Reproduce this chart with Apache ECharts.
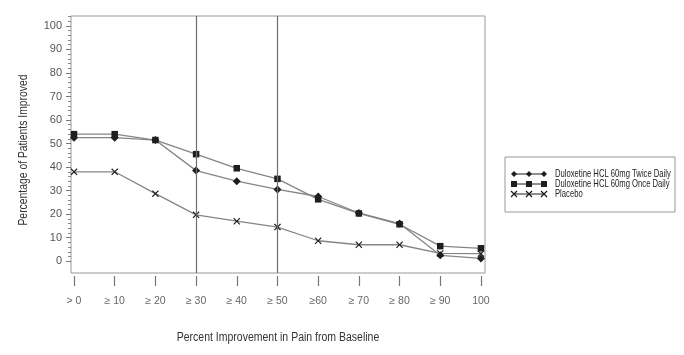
<!DOCTYPE html>
<html><head><meta charset="utf-8">
<script src="https://cdn.jsdelivr.net/npm/echarts@6/dist/echarts.min.js"></script>
<style>html,body{margin:0;padding:0;background:#fff}#c{width:684px;height:355px}</style>
</head><body><div id="c"></div>
<script>
var categories = ['> 0', '\u2265 10', '\u2265 20', '\u2265 30', '\u2265 40', '\u2265 50', '\u226560', '\u2265 70', '\u2265 80', '\u2265 90', '100'];
var twiceDaily = [52.5, 52.5, 51.5, 38.5, 34, 30.5, 27.5, 20.5, 16, 2.5, 1.2];
var onceDaily = [54, 54, 51.5, 45.5, 39.5, 35, 26.3, 20.3, 15.7, 6.4, 5.5];
var placebo = [38, 38, 28.7, 19.7, 17, 14.5, 8.7, 7, 7, 3.3, 3.2];
var seriesNames = ['Duloxetine HCL 60mg Twice Daily', 'Duloxetine HCL 60mg Once Daily', 'Placebo'];
var refLines = [3, 5];
var yMajor = [0, 10, 20, 30, 40, 50, 60, 70, 80, 90, 100];
var xTitle = 'Percent Improvement in Pain from Baseline';
var yTitle = 'Percentage of Patients Improved';

var FONT = '"Liberation Sans", Arial, sans-serif';
function pairs(arr){ return arr.map(function(v,i){ return [i, v]; }); }
var catIdx = categories.map(function(c,i){ return i; });
var yMinor = [];
for (var v = 0; v <= 104; v += 2) { if (v % 10 !== 0) yMinor.push(v); }

var xSym = 'path://M0,1.2L1.2,0L5,3.8L8.8,0L10,1.2L6.2,5L10,8.8L8.8,10L5,6.2L1.2,10L0,8.8L3.8,5Z';
var DARK = '#1e1e1e', LINE = '#858585';

var chart = echarts.init(document.getElementById('c'), null, {renderer:'canvas'});
function lineSeries(name, data, symbol, size){
  return {
    name: name, type: 'line', data: pairs(data), symbol: symbol, symbolSize: size,
    lineStyle: {color: LINE, width: 1.3},
    itemStyle: {color: DARK},
    emphasis: {disabled: true}, animation: false, z: 3
  };
}
var s1 = lineSeries(seriesNames[0], twiceDaily, 'diamond', 8);
s1.markLine = {
  silent: true, symbol: ['none','none'], label: {show: false},
  lineStyle: {color: '#6e6e6e', width: 1.2, type: 'solid'},
  data: refLines.map(function(i){ return {xAxis: i}; }),
  animation: false
};

// legend box drawn as graphic (condensed text)
var LX = 505, LY = 157;
var legendEls = [{
  type: 'rect', shape: {x: LX, y: LY, width: 170, height: 55},
  style: {fill: '#fff', stroke: '#999', lineWidth: 1}, z: 10
}];
var markerXs = [514, 529, 544];
seriesNames.forEach(function(name, r){
  var cy = LY + 17 + r * 10;
  legendEls.push({type: 'line', shape: {x1: 514, y1: cy, x2: 544, y2: cy}, style: {stroke: DARK, lineWidth: 1}, z: 11});
  markerXs.forEach(function(mx){
    if (r === 0) {
      legendEls.push({type: 'polygon', shape: {points: [[mx-3, cy], [mx, cy-3], [mx+3, cy], [mx, cy+3]]}, style: {fill: DARK}, z: 12});
    } else if (r === 1) {
      legendEls.push({type: 'rect', shape: {x: mx-3, y: cy-3, width: 6, height: 6}, style: {fill: DARK}, z: 12});
    } else {
      legendEls.push({type: 'line', shape: {x1: mx-3, y1: cy-3, x2: mx+3, y2: cy+3}, style: {stroke: DARK, lineWidth: 1.3}, z: 12});
      legendEls.push({type: 'line', shape: {x1: mx-3, y1: cy+3, x2: mx+3, y2: cy-3}, style: {stroke: DARK, lineWidth: 1.3}, z: 12});
    }
  });
  legendEls.push({type: 'text', x: 555, y: cy, scaleX: 0.73,
    style: {text: name, font: '10.5px ' + FONT, fill: '#222', align: 'left', verticalAlign: 'middle'}, z: 12});
});

var option = {
  backgroundColor: '#fff',
  animation: false,
  grid: {left: 71, right: 199, top: 16, bottom: 82, show: true, borderColor: '#999', borderWidth: 1, backgroundColor: 'transparent'},
  xAxis: {
    type: 'value', min: -0.074, max: 10.1, offset: 3,
    axisLine: {show: false, onZero: false},
    splitLine: {show: false},
    axisTick: {show: true, length: 10, customValues: catIdx, lineStyle: {color: '#777', width: 1.2}},
    axisLabel: {customValues: catIdx, margin: 20, fontFamily: FONT, fontSize: 10.5, color: '#666',
      formatter: function(v){ return categories[Math.round(v)]; }}
  },
  yAxis: [{
    type: 'value', min: -5, max: 104.2,
    axisLine: {show: false, onZero: false}, splitLine: {show: false},
    axisTick: {show: true, length: 5, customValues: yMajor, lineStyle: {color: '#777'}},
    axisLabel: {customValues: yMajor, margin: 9, fontFamily: FONT, fontSize: 11, color: '#555'}
  }, {
    type: 'value', min: -5, max: 104.2, position: 'left',
    axisLine: {show: false, onZero: false}, splitLine: {show: false},
    axisTick: {show: true, length: 3, customValues: yMinor, lineStyle: {color: '#888'}},
    axisLabel: {show: false, customValues: yMinor}
  }],
  graphic: [{
    type: 'text', x: 24, y: 150, rotation: Math.PI / 2, scaleX: 0.83,
    style: {text: yTitle, font: '12.5px ' + FONT, fill: '#333', align: 'center', verticalAlign: 'middle'}
  }, {
    type: 'text', x: 278, y: 338, scaleX: 0.84,
    style: {text: xTitle, font: '12.5px ' + FONT, fill: '#333', align: 'center', verticalAlign: 'middle'}
  }].concat(legendEls),
  series: [
    s1,
    lineSeries(seriesNames[1], onceDaily, 'rect', 6.5),
    lineSeries(seriesNames[2], placebo, xSym, 7)
  ]
};
chart.setOption(option);
</script></body></html>
